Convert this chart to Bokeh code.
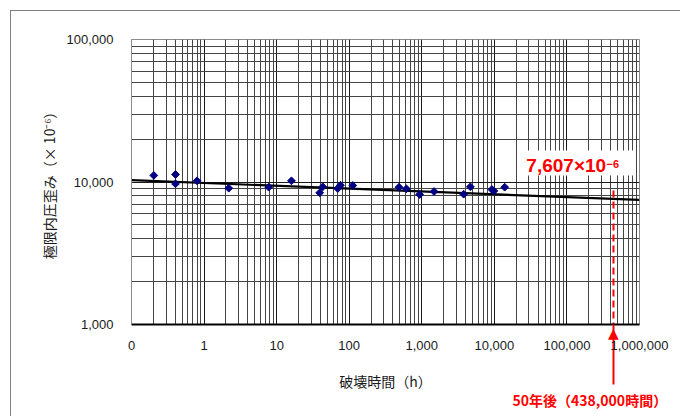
import math
from bokeh.plotting import figure
from bokeh.models import (FixedTicker, NumeralTickFormatter, Label, BoxAnnotation, Range1d,
                          LogAxis, Title)
from bokeh.embed import file_html
from bokeh.resources import INLINE

# ---- data ----
time_h = [0.203, 0.404, 0.404, 0.80, 2.19, 7.78, 16.0, 39.2, 43.2, 69.5, 75.7, 112,
          486, 614, 935, 1476, 3776, 4670, 9245, 9840, 13870]
strain = [11120, 11290, 9714, 10195, 9048, 9194, 10195, 8399, 9254, 9000, 9495, 9450,
          9194, 8960, 8170, 8575, 8210, 9254, 8857, 8650, 9194]

trend_x = [0.1, 1000000]
trend_y = [10300, 7484]

life_hours = 438000
life_strain = 7607
marker_top = 8700

x_ticks = [0.1, 1, 10, 100, 1000, 10000, 100000, 1000000]
x_tick_labels = ["0", "1", "10", "100", "1,000", "10,000", "100,000", "1,000,000"]
y_ticks = [1000, 10000, 100000]

value_label = "7,607×10"
value_exp = "−6"
life_label = "50年後（438,000時間）"
x_title = "破壊時間（h）"
y_title = "極限内圧歪み（× 10⁻⁶）"

# grid positions (2..9 × 10^k)
x_minor = [m * 10.0 ** e for e in range(-1, 6) for m in range(2, 10)]
y_minor = [m * 10.0 ** e for e in range(3, 5) for m in range(2, 10)]

# geometry: figure offset by 10px margin + 1px border (the chart-area frame)
OFF = 11
FL, FT, FW, FH = 131 - OFF, 39 - OFF, 508, 285
FR, FB = 41, 92
SHAFT = 60
HEAD_H = 16

p = figure(frame_width=FW, frame_height=FH, x_axis_type="log", y_axis_type="log",
           x_range=Range1d(0.1, 1000000), y_range=Range1d(1000, 100000),
           output_backend="svg", toolbar_location=None,
           min_border_left=FL, min_border_right=FR, min_border_top=FT,
           min_border_bottom=FB)
p.styles = {"margin-left": "10px", "margin-top": "10px",
            "border-left": "1px solid #808080", "border-top": "1px solid #808080"}

p.background_fill_color = "white"
p.border_fill_color = "white"
p.outline_line_color = "#8c8c8c"
p.outline_line_width = 1

# grids
for g, majors, minors in ((p.xgrid, x_ticks, x_minor), (p.ygrid, y_ticks, y_minor)):
    g.ticker = FixedTicker(ticks=majors, minor_ticks=minors)
    g.grid_line_color = "#1a1a1a"
    g.grid_line_width = 1
    g.minor_grid_line_color = "#444444"
    g.minor_grid_line_width = 1

# main axes
main_x = p.xaxis[0]
main_x.ticker = FixedTicker(ticks=x_ticks)
main_x.major_label_overrides = {t: l for t, l in zip(x_ticks, x_tick_labels)}
p.yaxis.ticker = FixedTicker(ticks=y_ticks)
p.yaxis.formatter = NumeralTickFormatter(format="0,0")
for ax in (main_x, p.yaxis[0]):
    ax.major_tick_out = 0
    ax.major_tick_in = 0
    ax.minor_tick_out = 0
    ax.minor_tick_in = 0
    ax.major_label_text_font = "Liberation Sans"
    ax.major_label_text_font_size = "13px"
    ax.major_label_text_color = "#1a1a1a"
    ax.axis_label_text_font = "Noto Sans CJK JP"
    ax.axis_label_text_font_size = "14px"
    ax.axis_label_text_font_style = "normal"
    ax.axis_label_text_color = "#1a1a1a"
main_x.axis_line_color = None
main_x.major_label_standoff = 13 - HEAD_H
main_x.axis_label = x_title
main_x.axis_label_standoff = 18
p.yaxis.axis_line_color = "#8c8c8c"
p.yaxis.major_label_standoff = 18
p.yaxis.axis_label = y_title
p.yaxis.axis_label_standoff = 5

# 50-year arrow: an x axis next to the frame whose one tick is the shaft and
# whose one label is the arrow head; its axis line is the black bottom edge
arrow_axis = LogAxis(ticker=FixedTicker(ticks=[life_hours], minor_ticks=[life_hours]),
                     major_label_overrides={life_hours: "▲"})
arrow_axis.axis_line_color = "black"
arrow_axis.axis_line_width = 2
arrow_axis.major_tick_out = 0
arrow_axis.major_tick_in = 0
arrow_axis.minor_tick_in = 0
arrow_axis.minor_tick_out = SHAFT
arrow_axis.minor_tick_line_color = "red"
arrow_axis.minor_tick_line_width = 2
arrow_axis.major_label_text_color = "red"
arrow_axis.major_label_text_font = "DejaVu Sans"
arrow_axis.major_label_text_font_size = "14px"
arrow_axis.major_label_standoff = -SHAFT
p.add_layout(arrow_axis, "below")
p.below = [arrow_axis] + [b for b in p.below if b is not arrow_axis]

# caption under the axis title
caption_style = dict(text=life_label, align="left", offset=381, text_color="red",
                     text_font="Noto Sans CJK JP", text_font_style="bold",
                     text_font_size="14px")
try:
    caption = Title(standoff=-12, **caption_style)
except Exception:
    caption = Title(standoff=0, **caption_style)
p.add_layout(caption, "below")

# trend line and points
p.line(trend_x, trend_y, line_color="black", line_width=2.2)
p.scatter(time_h, strain, marker="square", angle=math.pi / 4, size=5.5,
          fill_color="#000080", line_color="#000080")

# 50-year marker (dashed line inside the plot)
p.line([life_hours, life_hours], [marker_top, 1000], line_color="red",
       line_width=2, line_dash="7 4")

# value label
p.add_layout(Label(x=27600, y=13000, text=value_label, text_color="red",
                   text_font="Liberation Sans", text_font_style="bold",
                   text_font_size="19px", text_baseline="middle", text_align="left"))
p.add_layout(Label(x=FL + 474, y=FT + 123, x_units="canvas", y_units="canvas",
                   text=value_exp, text_color="red", text_font="Liberation Sans",
                   text_font_style="bold", text_font_size="11px",
                   text_baseline="middle", text_align="left"))

# white backing behind the value label
p.add_layout(BoxAnnotation(left=26700, right=822000, bottom=11120, top=16640,
                           fill_color="white", fill_alpha=1, line_alpha=0,
                           level="underlay"))

open("out.html", "w").write(file_html(p, INLINE))
